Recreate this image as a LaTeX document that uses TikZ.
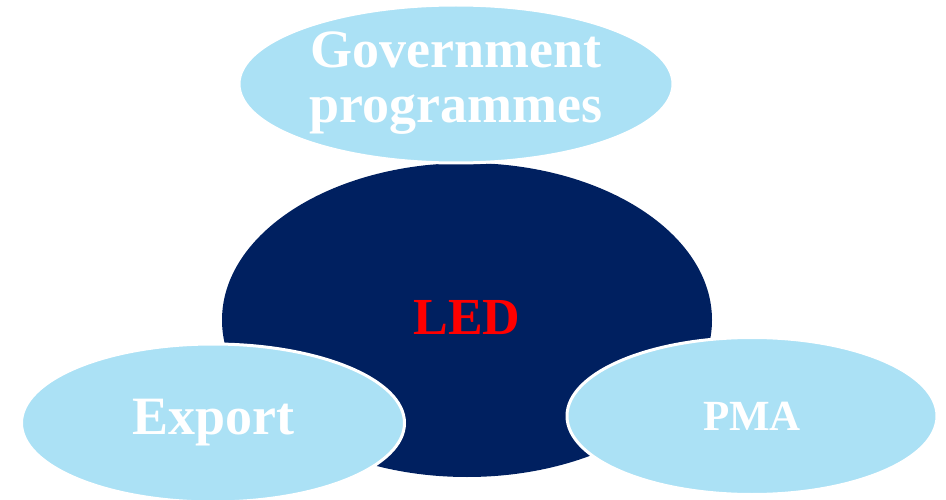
\documentclass[tikz,border=0pt]{standalone}
\usepackage{fontspec}
\setmainfont{Liberation Serif}
\usepackage{tikz}
\usetikzlibrary{shapes.geometric}
\usepackage{xcolor}
\definecolor{navy}{RGB}{0,32,96}
\definecolor{skyblue}{RGB}{171,225,245}

\begin{document}
\begin{tikzpicture}[x = 1pt, y = -1pt,
		core/.style = {ellipse, fill = navy, inner sep = 0pt, text = red, font = \bfseries\fontsize{52}{55}\selectfont},
		petal/.style = {ellipse, fill = skyblue, draw = white, line width = 3pt, inner sep = 0pt, text = white, align = center, font = \bfseries\fontsize{54}{55}\selectfont}]
		\useasboundingbox (0,0) rectangle (946,500);
		\node[core, minimum width = 490pt, minimum height = 314pt] (led) at (467,320) {\raisebox{5pt}{LED}};
		\node[petal, minimum width = 434pt, minimum height = 158pt] (gov) at (456,84) {\raisebox{-2pt}{\begin{tabular}{@{}c@{}}Government\\programmes\end{tabular}}};
		\node[petal, minimum width = 383pt, minimum height = 158pt] (export) at (213,423) {\raisebox{4pt}{Export}};
		\node[petal, minimum width = 370pt, minimum height = 157pt, font = \bfseries\fontsize{43}{45}\selectfont] (pma) at (752,416) {PMA};
	\end{tikzpicture}
\end{document}
